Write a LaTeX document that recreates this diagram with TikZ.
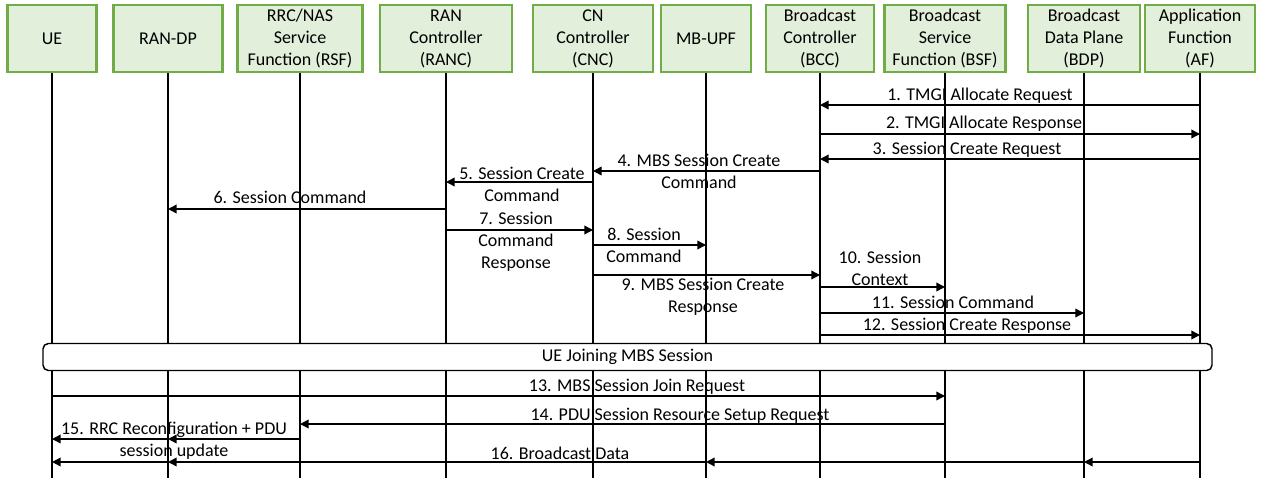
\documentclass[tikz,border=0pt]{standalone}
\usepackage{fontspec}
\setmainfont{Carlito}
\usetikzlibrary{arrows.meta}
\definecolor{boxfill}{HTML}{E2EFDA}
\definecolor{boxline}{HTML}{70AD47}
\begin{document}
\begin{tikzpicture}[x=0.75pt,y=-0.75pt,
  font=\fontsize{13.5}{16.5}\selectfont,
  actor/.style={draw=boxline, fill=boxfill, line width=1.6pt, align=center,
    minimum height=50.25pt, minimum width=#1*0.75pt, inner sep=0pt},
  life/.style={line width=1.1pt},
  msg/.style={line width=1.1pt, -{Triangle[length=6.5pt,width=6.5pt]}},
  lbl/.style={align=center, inner sep=0pt, yshift=-1.2pt},
  joinbox/.style={draw, fill=white, rounded corners=4pt, line width=1.1pt,
    minimum width=876.75pt, minimum height=20.25pt, inner sep=0pt},
]
\useasboundingbox (0,0) rectangle (1264,483);

% actors
\node[actor=89]  (UE)    at (52,38.5)   {UE};
\node[actor=109] (RANDP) at (168,38.5)  {RAN-DP};
\node[actor=125] (RSF)   at (300,38.5)  {RRC/NAS\\Service\\Function (RSF)};
\node[actor=132] (RANC)  at (446,38.5)  {RAN\\Controller\\(RANC)};
\node[actor=120] (CNC)   at (593,38.5)  {CN\\Controller\\(CNC)};
\node[actor=90]  (MBUPF) at (706,38.5)  {MB-UPF};
\node[actor=108] (BCC)   at (820,38.5)  {Broadcast\\Controller\\(BCC)};
\node[actor=121] (BSF)   at (945,38.5)  {Broadcast\\Service\\Function (BSF)};
\node[actor=112] (BDP)   at (1084,38.5) {Broadcast\\Data Plane\\(BDP)};
\node[actor=110] (AF)    at (1200,38.5) {Application\\Function\\(AF)};

% lifelines
\foreach \n in {UE,RANDP,RSF,RANC,CNC,MBUPF,BCC,BSF,BDP,AF}{
  \coordinate (\n-end) at (\n.south |- 0,478);
  \draw[life] (\n.south) -- (\n-end);
}

% message end points
\path (AF |- 0,105)    coordinate (m1s)  (BCC |- 0,105)   coordinate (m1e)
      (BCC |- 0,134)   coordinate (m2s)  (AF |- 0,134)    coordinate (m2e)
      (AF |- 0,159)    coordinate (m3s)  (BCC |- 0,159)   coordinate (m3e)
      (BCC |- 0,171)   coordinate (m4s)  (CNC |- 0,171)   coordinate (m4e)
      (CNC |- 0,182)   coordinate (m5s)  (RANC |- 0,182)  coordinate (m5e)
      (RANC |- 0,209)  coordinate (m6s)  (RANDP |- 0,209) coordinate (m6e)
      (RANC |- 0,230)  coordinate (m7s)  (CNC |- 0,230)   coordinate (m7e)
      (CNC |- 0,245)   coordinate (m8s)  (MBUPF |- 0,245) coordinate (m8e)
      (CNC |- 0,275)   coordinate (m9s)  (BCC |- 0,275)   coordinate (m9e)
      (BCC |- 0,287)   coordinate (m10s) (BSF |- 0,287)   coordinate (m10e)
      (BCC |- 0,313)   coordinate (m11s) (BDP |- 0,313)   coordinate (m11e)
      (BCC |- 0,335)   coordinate (m12s) (AF |- 0,335)    coordinate (m12e)
      (UE |- 0,396)    coordinate (m13s) (BSF |- 0,396)   coordinate (m13e)
      (BSF |- 0,424)   coordinate (m14s) (RSF |- 0,424)   coordinate (m14e)
      (RSF |- 0,439)   coordinate (m15a) (RANDP |- 0,439) coordinate (m15b)
      (UE |- 0,439)    coordinate (m15c)
      (AF |- 0,462)    coordinate (m16a) (BDP |- 0,462)   coordinate (m16b)
      (MBUPF |- 0,462) coordinate (m16c) (RANDP |- 0,462) coordinate (m16d)
      (UE |- 0,462)    coordinate (m16e);

% messages
\draw[msg] (m1s) -- (m1e);
\draw[msg] (m2s) -- (m2e);
\draw[msg] (m3s) -- (m3e);
\draw[msg] (m4s) -- (m4e);
\draw[msg] (m5s) -- (m5e);
\draw[msg] (m6s) -- (m6e);
\draw[msg] (m7s) -- (m7e);
\draw[msg] (m8s) -- (m8e);
\draw[msg] (m9s) -- (m9e);
\draw[msg] (m10s) -- (m10e);
\draw[msg] (m11s) -- (m11e);
\draw[msg] (m12s) -- (m12e);
\draw[msg] (m13s) -- (m13e);
\draw[msg] (m14s) -- (m14e);
\draw[msg] (m15a) -- (m15b);
\draw[msg] (m15b) -- (m15c);
\draw[msg] (m16a) -- (m16b);
\draw[msg] (m16b) -- (m16c);
\draw[msg] (m16c) -- (m16d);
\draw[msg] (m16d) -- (m16e);

% labels
\node[lbl] (l1)  at (980,94)    {1. TMGI Allocate Request};
\node[lbl] (l2)  at (984,122)   {2. TMGI Allocate Response};
\node[lbl] (l3)  at (967,148)   {3. Session Create Request};
\node[lbl] (l4)  at (699,170)   {4. MBS Session Create\\Command};
\node[lbl] (l5)  at (522,182.5) {5. Session Create\\Command};
\node[lbl] (l6)  at (290,196)   {6. Session Command};
\node[lbl] (l7)  at (516,240)   {7. Session\\Command\\Response};
\node[lbl] (l8)  at (644,243.5) {8. Session\\Command};
\node[lbl] (l9)  at (703,295)   {9. MBS Session Create\\Response};
\node[lbl] (l10) at (880,266.5) {10. Session\\Context};
\node[lbl] (l11) at (953,301)   {11. Session Command};
\node[lbl] (l12) at (967,324)   {12. Session Create Response};
\node[lbl] (l13) at (637,385)   {13. MBS Session Join Request};
\node[lbl] (l14) at (680,414)   {14. PDU Session Resource Setup Request};
\node[lbl] (l15) at (174,439)   {15. RRC Reconfiguration + PDU\\session update};
\node[lbl] (l16) at (560,452)   {16. Broadcast Data};

% joining box
\node[joinbox] (join) at (627.5,357) {UE Joining MBS Session};
\end{tikzpicture}
\end{document}
